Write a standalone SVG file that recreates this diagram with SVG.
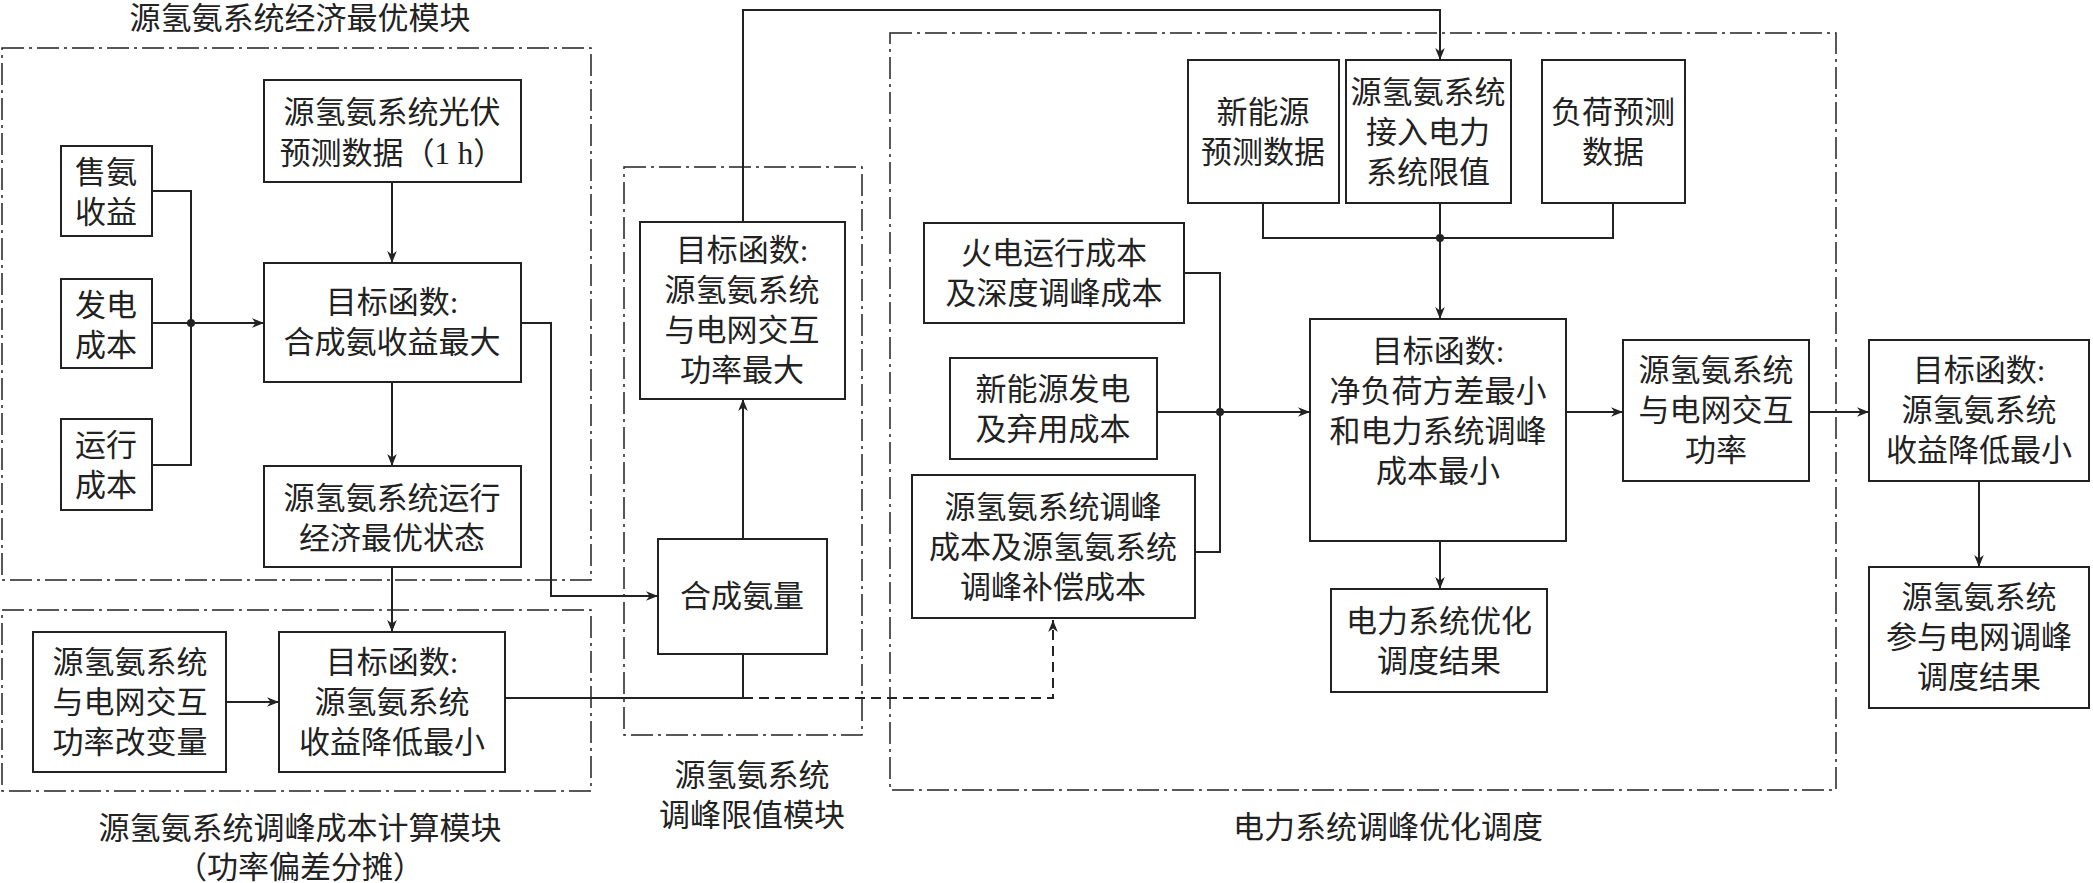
<svg xmlns="http://www.w3.org/2000/svg" width="2093" height="883" viewBox="0 0 2093 883">
<defs>
<marker id="a" viewBox="0 0 10 10" refX="10" refY="5" markerWidth="12" markerHeight="12" markerUnits="userSpaceOnUse" orient="auto"><path d="M0,1 L10,5 L0,9 L3,5 Z" fill="#222"/></marker>
<style>
text{font-family:"Liberation Serif","Noto Sans CJK SC",serif;font-size:31px;fill:#222;text-anchor:middle}
.b{fill:#fff;stroke:#222;stroke-width:2}
.d{fill:none;stroke:#222;stroke-width:1.5;stroke-dasharray:22,5,3,5}
.l{fill:none;stroke:#222;stroke-width:2}
.ds{fill:none;stroke:#222;stroke-width:2;stroke-dasharray:10,6}
</style>
</defs>
<rect width="2093" height="883" fill="#fff"/>
<g id="modules">
<rect class="d" x="2" y="48" width="589" height="532"/>
<rect class="d" x="2" y="610" width="589" height="181"/>
<rect class="d" x="624" y="167" width="238" height="568"/>
<rect class="d" x="890" y="33" width="946" height="757"/>
<text x="300" y="29">源氢氨系统经济最优模块</text>
<text x="300" y="839">源氢氨系统调峰成本计算模块</text>
<text x="300" y="878">（功率偏差分摊）</text>
<text x="752" y="786">源氢氨系统</text>
<text x="752" y="826">调峰限值模块</text>
<text x="1388" y="838">电力系统调峰优化调度</text>
</g>
<g id="connectors">
<polyline class="l" points="152,191 191,191 191,465 152,465"/>
<line class="l" x1="152" y1="323" x2="264" y2="323" marker-end="url(#a)"/>
<circle cx="191" cy="323" r="4" fill="#222"/>
<line class="l" x1="392" y1="182" x2="392" y2="263" marker-end="url(#a)"/>
<line class="l" x1="392" y1="382" x2="392" y2="466" marker-end="url(#a)"/>
<line class="l" x1="392" y1="567" x2="392" y2="632" marker-end="url(#a)"/>
<polyline class="l" points="521,323 551,323 551,596 658,596" marker-end="url(#a)"/>
<line class="l" x1="226" y1="702" x2="279" y2="702" marker-end="url(#a)"/>
<polyline class="l" points="505,698 743,698 743,654"/>
<polyline class="ds" points="743,698 1053,698 1053,620" marker-end="url(#a)"/>
<line class="l" x1="743" y1="539" x2="743" y2="399" marker-end="url(#a)"/>
<polyline class="l" points="743,222 743,10 1440,10 1440,60" marker-end="url(#a)"/>
<polyline class="l" points="1263,203 1263,238 1613,238 1613,203"/>
<line class="l" x1="1440" y1="203" x2="1440" y2="319" marker-end="url(#a)"/>
<circle cx="1440" cy="238" r="4" fill="#222"/>
<polyline class="l" points="1184,273 1220,273 1220,552 1195,552"/>
<line class="l" x1="1157" y1="412" x2="1310" y2="412" marker-end="url(#a)"/>
<circle cx="1220" cy="412" r="4" fill="#222"/>
<line class="l" x1="1440" y1="541" x2="1440" y2="589" marker-end="url(#a)"/>
<line class="l" x1="1566" y1="412" x2="1623" y2="412" marker-end="url(#a)"/>
<line class="l" x1="1809" y1="412" x2="1869" y2="412" marker-end="url(#a)"/>
<line class="l" x1="1979" y1="481" x2="1979" y2="567" marker-end="url(#a)"/>
</g>
<g id="n1"><rect class="b" x="61" y="146" width="91" height="90"/><text x="106" y="183">售氨</text><text x="106" y="223">收益</text></g>
<g id="n2"><rect class="b" x="61" y="279" width="91" height="89"/><text x="106" y="316">发电</text><text x="106" y="356">成本</text></g>
<g id="n3"><rect class="b" x="61" y="419" width="91" height="91"/><text x="106" y="456">运行</text><text x="106" y="496">成本</text></g>
<g id="n4"><rect class="b" x="264" y="80" width="257" height="102"/><text x="392" y="123">源氢氨系统光伏</text><text x="392" y="164">预测数据（1 h）</text></g>
<g id="n5"><rect class="b" x="264" y="263" width="257" height="119"/><text x="392" y="313">目标函数:</text><text x="392" y="353">合成氨收益最大</text></g>
<g id="n6"><rect class="b" x="264" y="466" width="257" height="101"/><text x="392" y="509">源氢氨系统运行</text><text x="392" y="549">经济最优状态</text></g>
<g id="n7"><rect class="b" x="33" y="632" width="193" height="140"/><text x="130" y="673">源氢氨系统</text><text x="130" y="713">与电网交互</text><text x="130" y="753">功率改变量</text></g>
<g id="n8"><rect class="b" x="279" y="632" width="226" height="140"/><text x="392" y="673">目标函数:</text><text x="392" y="713">源氢氨系统</text><text x="392" y="753">收益降低最小</text></g>
<g id="n9"><rect class="b" x="640" y="222" width="205" height="177"/><text x="742" y="261">目标函数:</text><text x="742" y="301">源氢氨系统</text><text x="742" y="341">与电网交互</text><text x="742" y="381">功率最大</text></g>
<g id="n10"><rect class="b" x="658" y="539" width="169" height="115"/><text x="742" y="607">合成氨量</text></g>
<g id="n11"><rect class="b" x="1188" y="60" width="151" height="143"/><text x="1263" y="123">新能源</text><text x="1263" y="163">预测数据</text></g>
<g id="n12"><rect class="b" x="1346" y="60" width="165" height="143"/><text x="1428" y="103">源氢氨系统</text><text x="1428" y="143">接入电力</text><text x="1428" y="183">系统限值</text></g>
<g id="n13"><rect class="b" x="1542" y="60" width="143" height="143"/><text x="1613" y="123">负荷预测</text><text x="1613" y="163">数据</text></g>
<g id="n14"><rect class="b" x="924" y="223" width="260" height="100"/><text x="1054" y="264">火电运行成本</text><text x="1054" y="304">及深度调峰成本</text></g>
<g id="n15"><rect class="b" x="950" y="358" width="207" height="101"/><text x="1053" y="400">新能源发电</text><text x="1053" y="440">及弃用成本</text></g>
<g id="n16"><rect class="b" x="912" y="475" width="283" height="143"/><text x="1053" y="518">源氢氨系统调峰</text><text x="1053" y="558">成本及源氢氨系统</text><text x="1053" y="598">调峰补偿成本</text></g>
<g id="n17"><rect class="b" x="1310" y="319" width="256" height="222"/><text x="1438" y="362">目标函数:</text><text x="1438" y="402">净负荷方差最小</text><text x="1438" y="442">和电力系统调峰</text><text x="1438" y="482">成本最小</text></g>
<g id="n18"><rect class="b" x="1331" y="589" width="216" height="103"/><text x="1439" y="632">电力系统优化</text><text x="1439" y="672">调度结果</text></g>
<g id="n19"><rect class="b" x="1623" y="340" width="186" height="141"/><text x="1716" y="381">源氢氨系统</text><text x="1716" y="421">与电网交互</text><text x="1716" y="461">功率</text></g>
<g id="n20"><rect class="b" x="1869" y="340" width="220" height="141"/><text x="1979" y="381">目标函数:</text><text x="1979" y="421">源氢氨系统</text><text x="1979" y="461">收益降低最小</text></g>
<g id="n21"><rect class="b" x="1869" y="567" width="220" height="141"/><text x="1979" y="608">源氢氨系统</text><text x="1979" y="648">参与电网调峰</text><text x="1979" y="688">调度结果</text></g>
</svg>
